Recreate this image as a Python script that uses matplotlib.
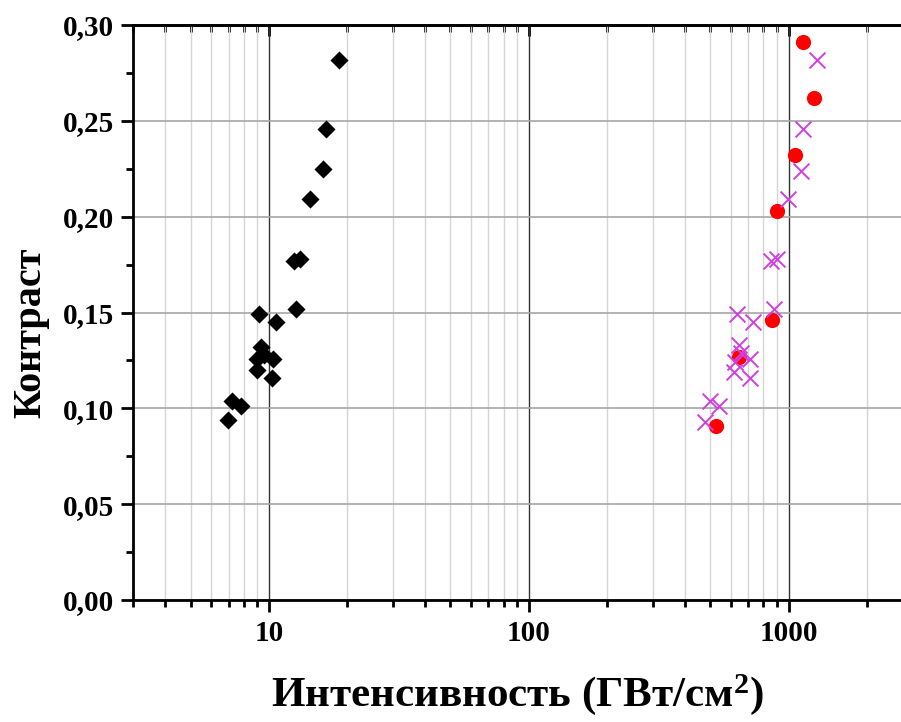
import matplotlib
matplotlib.use("Agg")
import matplotlib.pyplot as plt
from matplotlib.ticker import FixedLocator, FuncFormatter, LogLocator, MultipleLocator, NullFormatter

plt.rcParams['font.family'] = ['Liberation Serif', 'DejaVu Serif']
plt.rcParams['font.weight'] = 'bold'
plt.rcParams['mathtext.fontset'] = 'custom'
plt.rcParams['mathtext.rm'] = 'Liberation Serif:bold'
plt.rcParams['mathtext.bf'] = 'Liberation Serif:bold'
plt.rcParams['mathtext.it'] = 'Liberation Serif:bold'

# Black diamonds
diam_x = [18.7, 16.6, 16.2, 14.4, 12.45, 13.2, 9.16, 10.7, 12.7, 9.32, 9.0, 9.54,
          10.4, 9.0, 10.3, 7.22, 7.81, 6.94]
diam_y = [0.282, 0.246, 0.225, 0.209, 0.177, 0.178, 0.149, 0.145, 0.152, 0.132, 0.126, 0.128,
          0.126, 0.120, 0.116, 0.104, 0.101, 0.094]

# Magenta crosses
cross_x = [1289, 1139, 1115, 997, 858, 905, 633, 733, 876, 646, 620, 658,
           714, 618, 712, 498, 539, 475]
cross_y = [0.282, 0.246, 0.224, 0.209, 0.177, 0.178, 0.149, 0.145, 0.152, 0.133, 0.124, 0.129,
           0.126, 0.119, 0.116, 0.104, 0.101, 0.093]

# Red circles
circ_x = [1142, 1255, 1055, 905, 863, 644, 527]
circ_y = [0.291, 0.262, 0.232, 0.203, 0.146, 0.127, 0.091]

y_ticks = [0.00, 0.05, 0.10, 0.15, 0.20, 0.25, 0.30]
x_major = [10, 100, 1000]

fig = plt.figure(figsize=(9.01, 7.22), dpi=100)
ax = fig.add_axes([133/901, 1 - 600/722, 1 - 133/901, 575/722])

ax.set_xscale('log')
ax.set_xlim(3, 2710)
ax.set_ylim(0, 0.30)

ax.scatter(diam_x, diam_y, marker='D', s=85, color='black', zorder=3, linewidths=0)
ax.scatter(circ_x, circ_y, marker='o', s=120, color='#ff0000', zorder=3, linewidths=0)
ax.scatter(cross_x, cross_y, marker='x', s=130, color='#d23fe0', zorder=4, linewidths=1.4)

ax.xaxis.set_major_locator(FixedLocator(x_major))
ax.xaxis.set_minor_locator(LogLocator(base=10, subs=range(2, 10), numticks=20))
ax.xaxis.set_minor_formatter(NullFormatter())
ax.xaxis.set_major_formatter(FuncFormatter(lambda v, p: f"{int(round(v))}"))

ax.yaxis.set_major_locator(FixedLocator(y_ticks))
ax.yaxis.set_minor_locator(MultipleLocator(0.025))
ax.yaxis.set_major_formatter(FuncFormatter(lambda v, p: f"{v:.2f}".replace('.', ',')))

ax.grid(True, which='major', axis='x', color='#333333', linewidth=1.0, zorder=0)
ax.grid(True, which='minor', axis='x', color='#d6d6d6', linewidth=1.0, zorder=0)
ax.grid(True, which='major', axis='y', color='#a6a6a6', linewidth=1.2, zorder=0)
ax.set_axisbelow(True)

for side in ['left', 'bottom', 'top']:
    ax.spines[side].set_linewidth(2.0)
    ax.spines[side].set_color('black')
ax.spines['right'].set_visible(False)

ax.tick_params(axis='both', which='major', labelsize=21, width=2, length=8.5, color='black')
ax.tick_params(axis='both', which='minor', width=2, length=5)
ax.tick_params(axis='x', which='both', direction='out', top=False, pad=6)
ax.tick_params(axis='y', which='both', direction='out', right=False, pad=5)

sec = ax.secondary_xaxis('top')
sec.xaxis.set_major_locator(FixedLocator(x_major))
sec.xaxis.set_minor_locator(LogLocator(base=10, subs=range(2, 10), numticks=20))
sec.xaxis.set_minor_formatter(NullFormatter())
sec.tick_params(which='major', direction='in', labeltop=False, width=2, length=8)
sec.tick_params(which='minor', direction='in', labeltop=False, width=2, length=5)
sec.spines['top'].set_linewidth(2.0)

for lab in ax.get_xticklabels() + ax.get_yticklabels():
    lab.set_fontweight('bold')

ax.set_xlabel('Интенсивность (ГВт/см$^{2}$)', fontsize=31, fontweight='bold', labelpad=18)
ax.set_ylabel('Контраст', fontsize=29, fontweight='bold', labelpad=10)
ax.yaxis.label.set_y(0.464)

fig.savefig('out.png', dpi=100)
